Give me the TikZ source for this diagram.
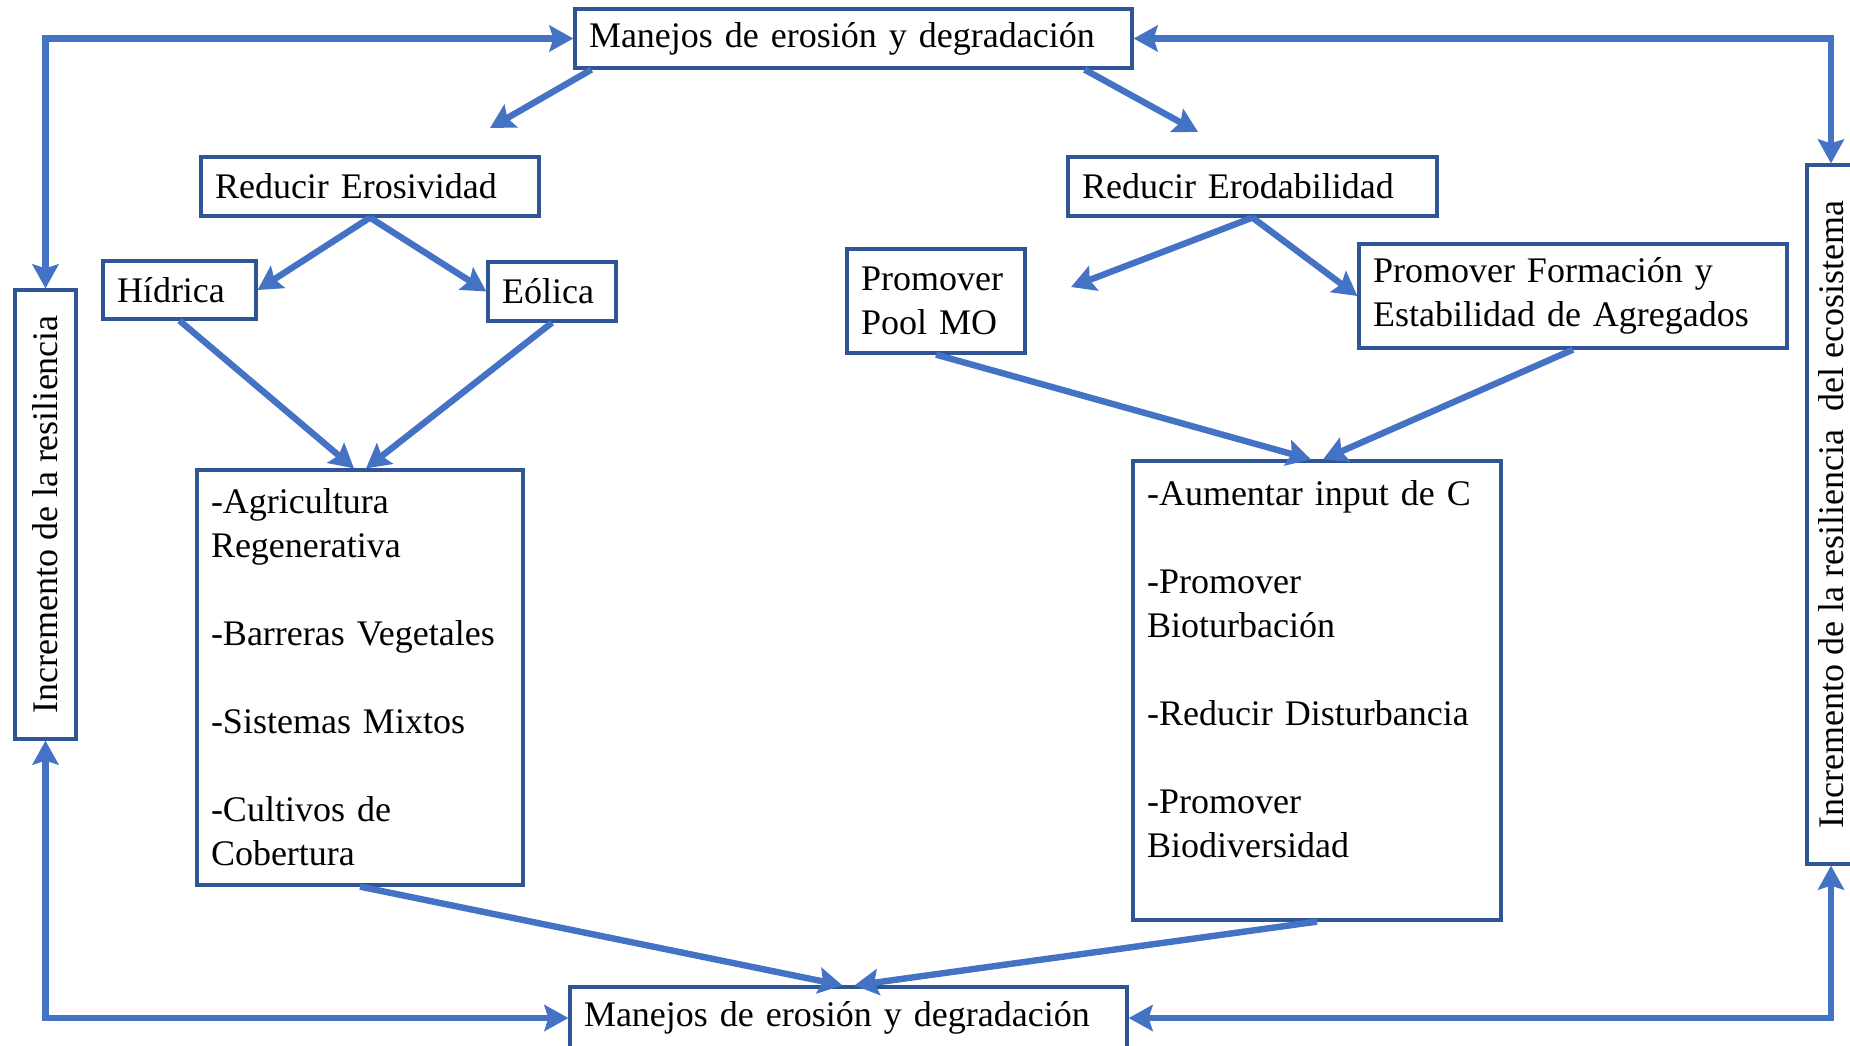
\documentclass[tikz,border=0pt]{standalone}
\usepackage{fontspec}
\setmainfont{Liberation Serif}
\usetikzlibrary{arrows.meta}

\definecolor{lineblue}{RGB}{68,114,196}
\definecolor{boxblue}{RGB}{47,85,151}

\begin{document}
\begin{tikzpicture}[x=0.5pt, y=-0.5pt,
    >={Stealth[length=12pt,width=13pt,inset=2pt]},
    caja/.style={draw=boxblue, line width=1.6pt, fill=white, align=left,
        inner xsep=7pt, inner ysep=0pt, font=\fontsize{18}{22}\selectfont},
    flecha/.style={draw=lineblue, line width=3.2pt}]

% 画布大小
\useasboundingbox (0,0) rectangle (1850,1045);
\clip (0,0) rectangle (1850,1045);

% 上下两个方框
\node[caja, text width=264.5pt, minimum height=29.5pt] (arriba) at (853.5,38.5) {Manejos de erosión y degradación};
\node[caja, text width=264.5pt, minimum height=31pt] (abajo) at (848.5,1018) {Manejos de erosión y degradación};

% 左边
\node[caja, text width=155pt, minimum height=29.5pt] (erosiv) at (370,186.5) {Reducir Erosividad};
\node[caja, text width=62.5pt, minimum height=29pt] (hidrica) at (179.5,290) {Hídrica};
\node[caja, text width=50pt, minimum height=29.5pt] (eolica) at (552,291.5) {Eólica};
\node[caja, text width=149pt, minimum height=207.5pt] (practL) at (360,677.5)
    {-Agricultura\\Regenerativa\\[22pt]-Barreras Vegetales\\[22pt]-Sistemas Mixtos\\[22pt]-Cultivos de\\Cobertura};

% 右边
\node[caja, text width=170.5pt, minimum height=29.5pt] (erodab) at (1252.5,186.5) {Reducir Erodabilidad};
\node[caja, text width=75pt, minimum height=52pt] (pool) at (936,301) {Promover\\Pool MO};
\node[caja, text width=200pt, minimum height=52pt] (agreg) at (1573,296) {Promover Formación y\\Estabilidad de Agregados};
\node[caja, text width=170pt, minimum height=229.5pt] (practR) at (1317,690.5)
    {-Aumentar input de C\\[22pt]-Promover\\Bioturbación\\[22pt]-Reducir Disturbancia\\[22pt]-Promover\\Biodiversidad\\ \mbox{}};

% 竖着的方框
\node[caja, rotate=90, align=center, inner xsep=0pt, minimum width=224.5pt, minimum height=30.5pt] (resilI) at (45.5,514.5) {Incremento de la resiliencia};
\node[caja, rotate=90, align=center, inner xsep=0pt, minimum width=349.5pt, minimum height=24pt] (resilD) at (1831,514.5) {Incremento de la resiliencia\ \ del ecosistema};

% 外圈箭头
\draw[flecha, <->] (resilI.east) |- (arriba.west);
\draw[flecha, <->] (resilI.west) |- (abajo.west);
\draw[flecha, <->] (resilD.east) |- (arriba.east);
\draw[flecha, <->] (resilD.west) |- (abajo.east);

% 斜箭头
\coordinate (puntaA) at (490,128);
\coordinate (puntaB) at (1198,132);
\coordinate (puntaC) at (1071,287);
\draw[flecha, ->] ([xshift=9pt]arriba.south west) -- (puntaA);
\draw[flecha, ->] ([xshift=-24.5pt]arriba.south east) -- (puntaB);
\draw[flecha, ->] (erosiv.south) -- (hidrica.east);
\draw[flecha, ->] (erosiv.south) -- (eolica.west);
\draw[flecha, ->] (hidrica.south) -- ([xshift=-3pt]practL.north);
\draw[flecha, ->] (eolica.south) -- ([xshift=3pt]practL.north);
\draw[flecha, ->] (erodab.south) -- (puntaC);
\draw[flecha, ->] (erodab.south) -- (agreg.west);
\draw[flecha, ->] (pool.south) -- ([xshift=-3pt]practR.north);
\draw[flecha, ->] (agreg.south) -- ([xshift=3pt]practR.north);
\draw[flecha, ->] (practL.south) -- ([xshift=-3pt]abajo.north);
\draw[flecha, ->] (practR.south) -- ([xshift=3pt]abajo.north);

\end{tikzpicture}
\end{document}
